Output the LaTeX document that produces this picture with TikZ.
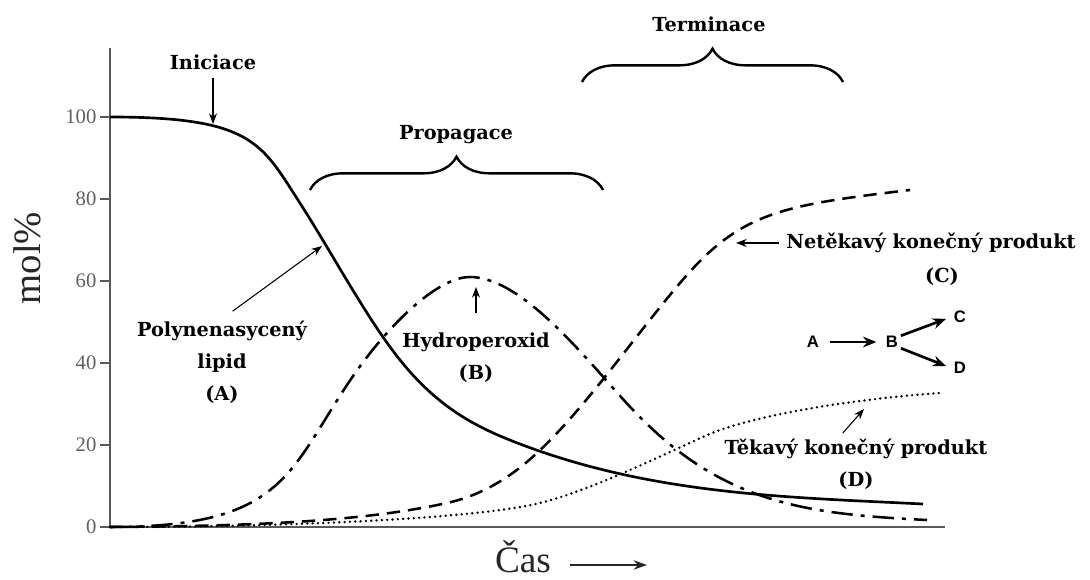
\documentclass[tikz,border=0pt]{standalone}
\usepackage{fontspec}
\setmainfont{Liberation Serif}
\newfontfamily\lblfont{DejaVu Serif}
\newfontfamily\rxnfont{Liberation Sans}
\usetikzlibrary{arrows.meta,positioning,decorations.pathreplacing}

\begin{document}
\begin{tikzpicture}[
  x=0.75pt, y=-0.75pt,
  axis/.style={draw=gray!70!black, line width=1.5pt},
  ticklbl/.style={font=\fontsize{15.5}{18}\selectfont, text=gray!75!black, anchor=east, inner sep=1pt},
  lbl/.style={font=\lblfont\bfseries\fontsize{14.5}{24}\selectfont, align=center, inner sep=1pt},
  ptr/.style={-{Stealth[length=8pt,width=6pt]}, line width=0.8pt},
  curveA/.style={line width=2pt},
  curveB/.style={line width=1.9pt, dash pattern=on 16pt off 6pt on 3pt off 6pt},
  curveC/.style={line width=1.9pt, dash pattern=on 10pt off 6pt},
  curveD/.style={line width=2pt, line cap=round, dash pattern=on 0pt off 4pt},
  phase/.style={decorate, decoration={brace, amplitude=25pt}, line width=1.8pt},
  rxn/.style={font=\rxnfont\bfseries\fontsize{12.5}{14}\selectfont, inner sep=2pt},
  rxnarrow/.style={-{Stealth[length=10pt,width=8pt]}, line width=2pt}
]
\useasboundingbox (0,0) rectangle (1090,580);

\draw[axis] (110,48) -- (110,527) -- (945,527);
\foreach \v in {0,20,...,100}{
  \draw[axis, line width=1.2pt] (100,{527-4.1*\v}) -- (110,{527-4.1*\v});
  \node[ticklbl] (t\v) at (98,{527-4.1*\v}) {\v};
}
\node[font=\fontsize{29}{32}\selectfont, rotate=90, text=black!85] (ylbl) at (27,258) {mol\%};
\node[font=\fontsize{28}{30}\selectfont, text=black!85] (tlbl) at (523,557) {Čas};
\coordinate (tEnd) at (647,565);
\draw[-{Stealth[length=10pt,width=7pt]}, line width=1.4pt, black!85] ([xshift=11pt,yshift=-6pt]tlbl.east) -- (tEnd);

\draw[curveD] (110,527) .. controls (300,527) and (480,518) .. (540,503)
  .. controls (590,490.5) and (655,458.5) .. (705,436)
  .. controls (750,415.75) and (850,399.3) .. (940,393);
\draw[curveC] (110,527) .. controls (250,526) and (360,522) .. (447,503)
  .. controls (477,496.4) and (507,481) .. (537,453)
  .. controls (585,408.4) and (632,339.6) .. (680,283)
  .. controls (740,212.2) and (780,205.6) .. (910,190);
\draw[curveB] (110,527) .. controls (281,527) and (287,475.7) .. (347,385)
  .. controls (382,331.8) and (435,277) .. (470,277)
  .. controls (525,277) and (593,368) .. (633,410)
  .. controls (723,504.5) and (807,514) .. (927,520);
\draw[curveA] (110,117) .. controls (251,117) and (261,142.6) .. (298,200)
  .. controls (332,252.7) and (366,317.5) .. (400,360)
  .. controls (440,410) and (480,428.8) .. (520,444)
  .. controls (654,495) and (789,497.3) .. (923,504);

\coordinate (propL) at (310,190);
\coordinate (propR) at (603,190);
\coordinate (termL) at (582,82);
\coordinate (termR) at (843,82);
\draw[phase] (propL) -- (propR);
\draw[phase] (termL) -- (termR);
\node[lbl] (prop) at (456,135) {Propagace};
\node[lbl] (term) at (709,24) {Terminace};

\node[lbl] (ini) at (213,62) {Iniciace};
\coordinate (iniPt) at (213,124);
\draw[ptr] ([yshift=-5pt]ini.south) -- (iniPt);

\node[lbl] (lipA) at (222,362) {Polynenasycený\\lipid\\(A)};
\coordinate (lipPt) at (322,246);
\draw[ptr] ([xshift=8pt,yshift=6pt]lipA.north) -- (lipPt);

\node[lbl] (hpB) at (476,358) {Hydroperoxid\\(B)};
\coordinate (hpPt) at (476,287);
\draw[ptr] ([yshift=14pt]hpB.north) -- (hpPt);

\node[lbl] (prodC) at (931,243) {Netěkavý konečný produkt};
\node[lbl] (prodCl) at (942,277) {(C)};
\coordinate (cPt) at (736,243);
\draw[ptr] ([xshift=-4pt]prodC.west) -- (cPt);

\node[lbl] (prodD) at (856,464) {Těkavý konečný produkt\\(D)};
\coordinate (dPt) at (864,409);
\draw[ptr] ([xshift=-10pt,yshift=3pt]prodD.north) -- (dPt);

\node[rxn] (rA) at (813,342) {A};
\node[rxn] (rB) at (892,342) {B};
\node[rxn] (rC) at (960,317) {C};
\node[rxn] (rD) at (960,368) {D};
\draw[rxnarrow, shorten <=6pt, shorten >=5pt] (rA) -- (rB);
\draw[rxnarrow, shorten >=4pt] (rB.35) -- (rC.west);
\draw[rxnarrow, shorten >=4pt] (rB.-35) -- (rD.west);
\end{tikzpicture}
\end{document}
